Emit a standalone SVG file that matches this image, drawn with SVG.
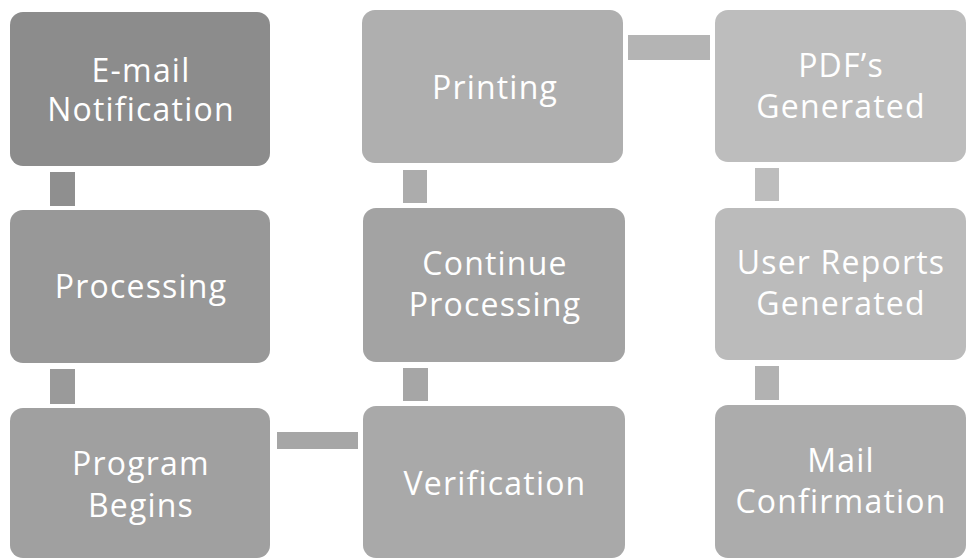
<svg xmlns="http://www.w3.org/2000/svg" width="966" height="559" viewBox="0 0 966 559">
<style>
.box{stroke:none}
.t{font-family:"Open Sans","Liberation Sans",sans-serif;font-size:32px;letter-spacing:1.2px;fill:#ffffff;text-anchor:middle}
.c{stroke:none}
</style>
<rect width="966" height="559" fill="#ffffff"/>
<g id="connectors">
<rect class="c" x="50" y="172" width="25" height="34" fill="#8f8f8f"/>
<rect class="c" x="50" y="369" width="25" height="35" fill="#9a9a9a"/>
<rect class="c" x="277" y="432" width="81" height="17" fill="#a6a6a6"/>
<rect class="c" x="403" y="368" width="25" height="33" fill="#a6a6a6"/>
<rect class="c" x="403" y="170" width="24" height="33" fill="#acacac"/>
<rect class="c" x="628" y="35" width="82" height="25" fill="#b4b4b4"/>
<rect class="c" x="755" y="168" width="24" height="33" fill="#bdbdbd"/>
<rect class="c" x="755" y="366" width="24" height="34" fill="#b2b2b2"/>
</g>
<g id="n-email">
<rect class="box" x="10" y="12" width="260" height="154" rx="13" fill="#8c8c8c"/>
<text class="t" x="141" y="82">E-mail</text>
<text class="t" x="141" y="121">Notification</text>
</g>
<g id="n-processing">
<rect class="box" x="10" y="210" width="260" height="153" rx="13" fill="#989898"/>
<text class="t" x="141" y="298">Processing</text>
</g>
<g id="n-program">
<rect class="box" x="10" y="408" width="260" height="150" rx="13" fill="#a0a0a0"/>
<text class="t" x="141" y="475">Program</text>
<text class="t" x="141" y="517">Begins</text>
</g>
<g id="n-verification">
<rect class="box" x="363" y="406" width="262" height="152" rx="13" fill="#a9a9a9"/>
<text class="t" x="495" y="495">Verification</text>
</g>
<g id="n-continue">
<rect class="box" x="363" y="208" width="262" height="154" rx="13" fill="#a3a3a3"/>
<text class="t" x="495" y="275">Continue</text>
<text class="t" x="495" y="316">Processing</text>
</g>
<g id="n-printing">
<rect class="box" x="362" y="10" width="261" height="153" rx="13" fill="#afafaf"/>
<text class="t" x="495" y="99">Printing</text>
</g>
<g id="n-pdf">
<rect class="box" x="715" y="10" width="251" height="152" rx="13" fill="#bdbdbd"/>
<text class="t" x="841" y="77">PDF’s</text>
<text class="t" x="841" y="118">Generated</text>
</g>
<g id="n-userreports">
<rect class="box" x="715" y="208" width="251" height="152" rx="13" fill="#bbbbbb"/>
<text class="t" x="841" y="274">User Reports</text>
<text class="t" x="841" y="315">Generated</text>
</g>
<g id="n-mail">
<rect class="box" x="715" y="405" width="251" height="153" rx="13" fill="#acacac"/>
<text class="t" x="841" y="472">Mail</text>
<text class="t" x="841" y="513">Confirmation</text>
</g>
</svg>
